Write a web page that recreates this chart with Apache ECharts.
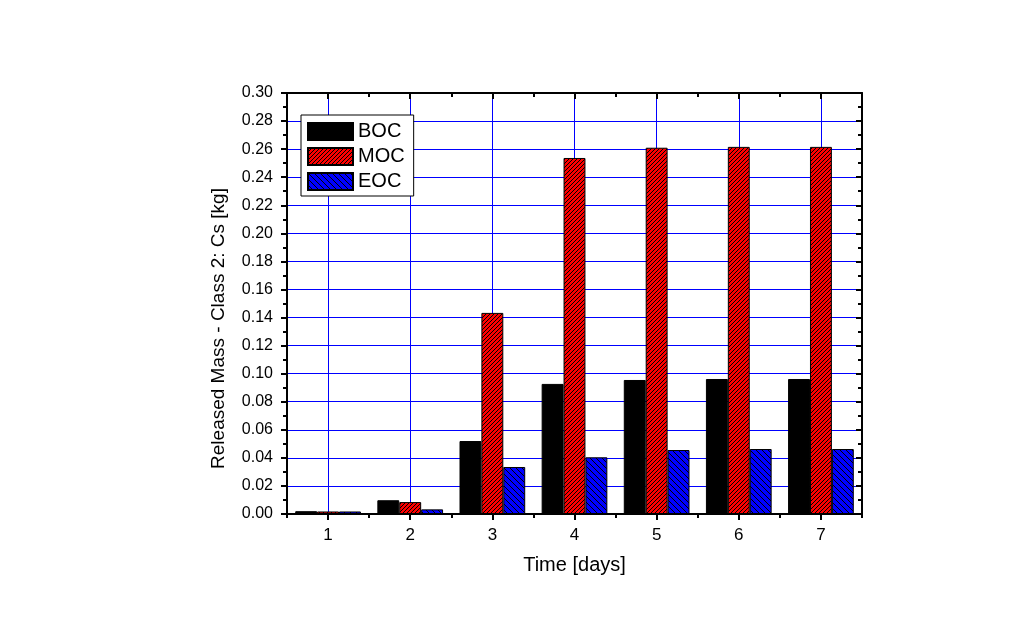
<!DOCTYPE html>
<html>
<head>
<meta charset="utf-8">
<script src="https://cdn.jsdelivr.net/npm/echarts@6/dist/echarts.min.js"></script>
<style>html,body{margin:0;padding:0;background:#fff;}#c{width:1024px;height:637px;}</style>
</head>
<body>
<div id="c"></div>
<script>
const categories = ['1','2','3','4','5','6','7'];
const BOC = [0.0020, 0.0098, 0.052, 0.0927, 0.0955, 0.0962, 0.0962];
const MOC = [0.0018, 0.0085, 0.1433, 0.2537, 0.2610, 0.2616, 0.2616];
const EOC = [0.0018, 0.0033, 0.0335, 0.0404, 0.0456, 0.0463, 0.0463];
const seriesNames = ['BOC','MOC','EOC'];

function hatch(bg, size, dir) {
  const c = document.createElement('canvas');
  c.width = size; c.height = size;
  const g = c.getContext('2d');
  g.fillStyle = bg; g.fillRect(0,0,size,size);
  g.strokeStyle = '#000'; g.lineWidth = 1;
  g.beginPath();
  if (dir === '/') {
    g.moveTo(0,size); g.lineTo(size,0);
    g.moveTo(-1,1); g.lineTo(1,-1);
    g.moveTo(size-1,size+1); g.lineTo(size+1,size-1);
  } else {
    g.moveTo(0,0); g.lineTo(size,size);
    g.moveTo(size-1,-1); g.lineTo(size+1,1);
    g.moveTo(-1,size-1); g.lineTo(1,size+1);
  }
  g.stroke();
  return c;
}
const redPat = {image: hatch('#ff0000', 4, '/'), repeat: 'repeat'};
const bluePat = {image: hatch('#0000ff', 6, '\\'), repeat: 'repeat'};

const chart = echarts.init(document.getElementById('c'), null, {renderer:'canvas'});
const FF = 'Liberation Sans, Arial, sans-serif';
const lblFont = {fontFamily:FF, fontSize:16, color:'#000'};
const axisLine = {show:true, lineStyle:{color:'#000', width:2}};
chart.setOption({
  animation:false,
  backgroundColor:'#fff',
  grid:{left:287, right:162, top:93, bottom:123, containLabel:false},
  legend:{
    orient:'vertical', left:301, top:115, align:'left',
    backgroundColor:'#fff', borderColor:'#000', borderWidth:1,
    padding:[6,9,4,6], itemWidth:45, itemHeight:17, itemGap:4, icon:'rect',
    textStyle:{fontFamily:FF, fontSize:20, color:'#000', lineHeight:21},
    data:seriesNames
  },
  xAxis:[
    {type:'category', data:categories, position:'bottom',
     name:'Time [days]', nameLocation:'middle', nameGap:41,
     nameTextStyle:{fontFamily:FF, fontSize:20, color:'#000'},
     axisLine:axisLine,
     axisTick:{show:true, alignWithLabel:true, length:6, inside:false, lineStyle:{color:'#000', width:2}},
     axisLabel:Object.assign({margin:13}, lblFont, {fontSize:17}),
     splitLine:{show:true, alignWithLabel:true, lineStyle:{color:'#0000ff', width:1}}},
    {type:'category', data:categories, position:'bottom',
     axisLine:{show:false}, axisLabel:{show:false},
     axisTick:{show:true, length:4, lineStyle:{color:'#000', width:2}},
     splitLine:{show:false}},
    {type:'category', data:categories, position:'top',
     axisLine:axisLine, axisLabel:{show:false},
     axisTick:{show:true, alignWithLabel:true, inside:true, length:6, lineStyle:{color:'#000', width:2}},
     splitLine:{show:false}},
    {type:'category', data:categories, position:'top',
     axisLine:{show:false}, axisLabel:{show:false},
     axisTick:{show:true, inside:true, length:4, lineStyle:{color:'#000', width:2}},
     splitLine:{show:false}}
  ],
  yAxis:[
    {type:'value', min:0, max:0.30, interval:0.02, position:'left',
     name:'Released Mass - Class 2: Cs [kg]', nameLocation:'middle', nameGap:59,
     nameTextStyle:{fontFamily:FF, fontSize:19, color:'#000', padding:[0,50,0,0]},
     axisLine:axisLine,
     axisTick:{show:true, length:6, lineStyle:{color:'#000', width:2}},
     minorTick:{show:true, splitNumber:2, length:4, lineStyle:{color:'#000', width:2}},
     axisLabel:Object.assign({margin:14, formatter:v=>v.toFixed(2)}, lblFont),
     splitLine:{show:true, lineStyle:{color:'#0000ff', width:1}}},
    {type:'value', min:0, max:0.30, interval:0.02, position:'right',
     axisLine:axisLine, axisLabel:{show:false},
     axisTick:{show:true, inside:true, length:6, lineStyle:{color:'#000', width:2}},
     minorTick:{show:true, splitNumber:2, length:4, lineStyle:{color:'#000', width:2}},
     splitLine:{show:false}}
  ],
  series:[
    {name:'BOC', type:'bar', data:BOC, barGap:'0%', barCategoryGap:'20%',
     itemStyle:{color:'#000000', borderColor:'#000', borderWidth:1}},
    {name:'MOC', type:'bar', data:MOC, barGap:'0%', barCategoryGap:'20%',
     itemStyle:{color:redPat, borderColor:'#000', borderWidth:1}},
    {name:'EOC', type:'bar', data:EOC, barGap:'0%', barCategoryGap:'20%',
     itemStyle:{color:bluePat, borderColor:'#000', borderWidth:1}}
  ]
});
</script>
</body>
</html>
